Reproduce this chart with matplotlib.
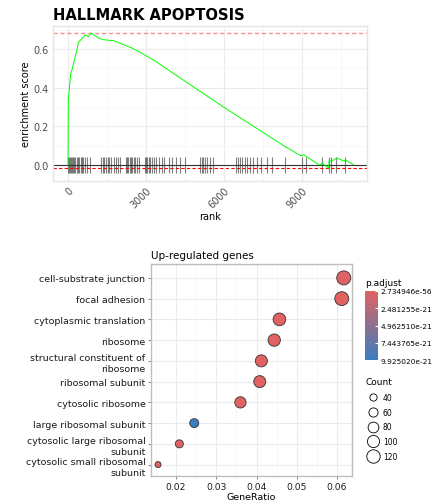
import numpy as np
import matplotlib
matplotlib.use('Agg')
import matplotlib.pyplot as plt
from matplotlib.colors import LinearSegmentedColormap, Normalize
from matplotlib.cm import ScalarMappable
from matplotlib.lines import Line2D
from matplotlib.ticker import MultipleLocator

# --- GSEA running enrichment score ---
es_rank = [0, 13, 103, 167, 270, 335, 399, 528, 656, 785, 888, 1171, 1364,
           1750, 2072, 2458, 2844, 3000, 3359, 3552, 5997, 7799,
           8313, 8957, 9087, 9151, 9665, 9730, 9755, 10025, 10040, 10116,
           10347, 10631, 10660, 10991]
es_score = [0.0, 0.34, 0.47, 0.50, 0.557, 0.59, 0.635, 0.652, 0.672, 0.664,
            0.683, 0.657, 0.648, 0.643, 0.626, 0.605, 0.578, 0.565, 0.538,
            0.519, 0.298, 0.143, 0.098, 0.048, 0.052, 0.045,
            0.0, 0.002, 0.01, -0.016, 0.022, 0.019, 0.036, 0.019, 0.027, 0.0]
hit_ranks = [13, 51, 90, 129, 167, 206, 245, 283, 335, 386, 438, 489, 541,
             592, 644, 746, 849, 1274, 1338, 1403, 1467, 1532, 1596, 1660,
             1750, 1827, 1905, 1982, 2213, 2265, 2317, 2368, 2420, 2471,
             2523, 2587, 2651, 2716, 2948, 2999, 3050, 3102, 3166, 3230,
             3295, 3398, 3501, 3604, 3681, 3874, 4003, 4157, 4324, 4517,
             5071, 5135, 5200, 5264, 5354, 5457, 5560, 6448, 6538, 6615,
             6705, 6808, 6898, 7001, 7104, 7284, 7413, 7670, 7863, 8340,
             8996, 9151, 9755, 10051, 10116, 10309, 10669]
es_max = 0.683
es_min = -0.016
gsea_title = 'HALLMARK APOPTOSIS'

# --- enrichment dot plot ---
terms = ['cell-substrate junction', 'focal adhesion', 'cytoplasmic translation',
         'ribosome', 'structural constituent of\nribosome', 'ribosomal subunit',
         'cytosolic ribosome', 'large ribosomal subunit',
         'cytosolic large ribosomal\nsubunit', 'cytosolic small ribosomal\nsubunit']
gene_ratio = [0.0617, 0.0612, 0.0457, 0.0444, 0.0412, 0.0408, 0.0360,
              0.0245, 0.0208, 0.0155]
counts = [130, 128, 108, 102, 98, 97, 87, 58, 48, 30]
p_adjust = [2.734946e-56, 1.5e-52, 4.2e-45, 8.1e-44, 2.3e-40, 6.7e-39,
            1.1e-35, 9.925020e-21, 3.2e-30, 5.6e-25]
cbar_ticks = [2.734946e-56, 2.481255e-21, 4.962510e-21, 7.443765e-21, 9.925020e-21]
size_breaks = [40, 60, 80, 100, 120]

W, H = 446, 502
fig = plt.figure(figsize=(W / 100, H / 100), dpi=100)


def frac(x0, y0, x1, y1):
    return [x0 / W, 1 - y1 / H, (x1 - x0) / W, (y1 - y0) / H]


# ---------------- top: running score ----------------
ax1 = fig.add_axes(frac(53, 27, 367, 182))
ax1.set_xlim(-577, 11500)
ax1.set_ylim(-0.083, 0.719)
ax1.xaxis.set_major_locator(MultipleLocator(3000))
ax1.xaxis.set_minor_locator(MultipleLocator(1500))
ax1.yaxis.set_major_locator(MultipleLocator(0.2))
ax1.yaxis.set_minor_locator(MultipleLocator(0.1))
ax1.grid(which='major', color='#EBEBEB', lw=0.8)
ax1.grid(which='minor', color='#F4F4F4', lw=0.5)
ax1.set_axisbelow(True)
for sp in ax1.spines.values():
    sp.set_color('#E5E5E5')
    sp.set_linewidth(1.0)
ax1.tick_params(which='both', length=0, labelsize=7, labelcolor='#4D4D4D', pad=3)
ax1.set_yticks([0.0, 0.2, 0.4, 0.6])
ax1.set_yticklabels(['0.0', '0.2', '0.4', '0.6'])
plt.setp(ax1.get_xticklabels(), rotation=45, ha='right', rotation_mode='anchor')

ax1.vlines(hit_ranks, -0.041, 0.041, colors='black', alpha=0.5, lw=0.8)
ax1.axhline(0, color='#333333', lw=0.8)
ax1.axhline(es_max, color='red', alpha=0.45, lw=1.0, ls=(0, (3, 2)))
ax1.axhline(es_min, color='red', lw=0.8, ls=(0, (3, 2)))
ax1.plot(es_rank, es_score, color='#00FF00', lw=0.7)

ax1.set_xlabel('rank', fontsize=7, labelpad=1)
ax1.set_ylabel('enrichment score', fontsize=7, labelpad=2)
fig.text(53 / W, 1 - 15 / H, gsea_title, fontsize=10.6, fontweight='bold',
         ha='left', va='center')

# ---------------- bottom: dot plot ----------------
ax2 = fig.add_axes(frac(151, 265, 352, 477))
cmap = LinearSegmentedColormap.from_list('padj', ['#E06262', '#3A7EC0'])
norm = Normalize(vmin=cbar_ticks[0], vmax=cbar_ticks[-1])

s_min, s_max = 18.7, 101.6
c_min, c_max = min(counts), max(counts)


def count_to_area(c):
    return s_min + (s_max - s_min) * (np.asarray(c) - c_min) / (c_max - c_min)


ypos = np.arange(len(terms))
ax2.scatter(gene_ratio, ypos, s=count_to_area(counts), c=p_adjust, cmap=cmap,
            norm=norm, edgecolors='#333333', linewidths=0.6, zorder=3)
ax2.set_xlim(0.01375, 0.06375)
ax2.set_ylim(9.55, -0.67)
ax2.set_yticks(ypos)
ax2.set_yticklabels(terms, fontsize=6.8, color='#1A1A1A', linespacing=1.3)
ax2.xaxis.set_major_locator(MultipleLocator(0.01))
ax2.xaxis.set_minor_locator(MultipleLocator(0.005))
ax2.set_xticks([0.02, 0.03, 0.04, 0.05, 0.06])
ax2.set_xticklabels(['0.02', '0.03', '0.04', '0.05', '0.06'])
ax2.tick_params(axis='x', labelsize=6.6, labelcolor='#1A1A1A')
ax2.tick_params(which='major', length=2, color='#555555', width=0.5, pad=2)
ax2.tick_params(which='minor', length=0)
ax2.grid(which='major', color='#EBEBEB', lw=0.8)
ax2.grid(which='minor', axis='x', color='#F4F4F4', lw=0.5)
ax2.set_axisbelow(True)
for sp in ax2.spines.values():
    sp.set_color('#BDBDBD')
    sp.set_linewidth(1.0)
ax2.set_xlabel('GeneRatio', fontsize=6.8, labelpad=1)
ax2.set_title('Up-regulated genes', fontsize=7.5, loc='left', pad=4)

# colorbar
cax = fig.add_axes(frac(365, 292, 378, 361))
sm = ScalarMappable(norm=norm, cmap=cmap)
cb = fig.colorbar(sm, cax=cax)
cb.outline.set_visible(False)
cb.set_ticks(cbar_ticks)
cb.set_ticklabels(['%.6e' % v for v in cbar_ticks])
cax.invert_yaxis()
cax.tick_params(labelsize=5.3, color='white', length=2, direction='in', pad=2)
fig.text(365 / W, 1 - 283 / H, 'p.adjust', fontsize=6.5, ha='left', va='center')

# size legend
fig.text(365 / W, 1 - 383 / H, 'Count', fontsize=6.5, ha='left', va='center')
handles = [Line2D([], [], ls='', marker='o', mfc='white', mec='black', mew=0.6,
                  markersize=np.sqrt(count_to_area(b))) for b in size_breaks]
fig.legend(handles, [str(b) for b in size_breaks], loc='upper left',
           bbox_to_anchor=(363 / W, 1 - 390 / H), frameon=False, fontsize=5.5,
           labelspacing=0.75, handletextpad=0.6, borderpad=0, handlelength=1.5)

plt.savefig('out.png', dpi=100)
